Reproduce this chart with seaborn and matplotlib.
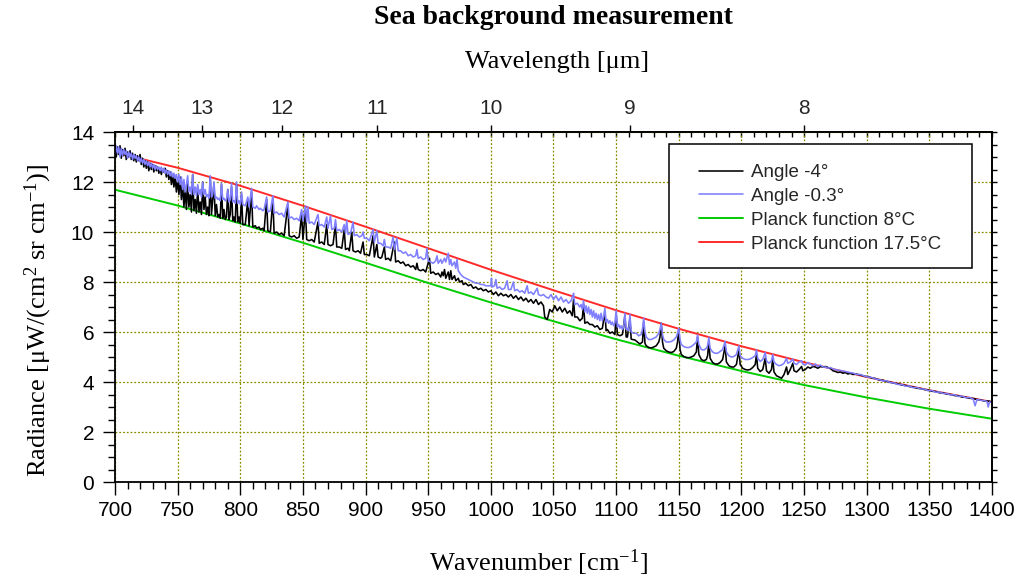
import numpy as np
import matplotlib
matplotlib.use("Agg")
import matplotlib.pyplot as plt
import seaborn as sns
from matplotlib.ticker import MultipleLocator, NullFormatter
from matplotlib.patches import Rectangle

# ---------------- data ----------------
planck_nu = [700, 750, 800, 850, 900, 950, 1000, 1050, 1100, 1150, 1200, 1250, 1300, 1350, 1400]
planck_8C = [11.69, 11.06, 10.34, 9.57, 8.77, 7.96, 7.18, 6.43, 5.71, 5.05, 4.44, 3.88, 3.38, 2.93, 2.53]
planck_17C = [13.18, 12.57, 11.85, 11.05, 10.21, 9.35, 8.49, 7.67, 6.87, 6.13, 5.43, 4.79, 4.20, 3.67, 3.20]

angle_m4_pts = [
    (700, 13.5), (701, 13.0), (702, 13.4), (703, 13.1), (704, 13.45), (705, 12.95), (706, 13.3),
    (707, 13.05), (708, 13.35), (709, 12.9), (710, 13.2), (711, 13.0), (712, 13.25), (713, 12.9),
    (714, 13.15), (715, 12.85), (716, 13.1), (717, 12.8), (718, 13.05), (719, 12.85), (720, 13.1),
    (721, 12.7), (722, 12.95), (723, 12.6), (724, 12.85), (725, 12.55), (726, 12.8), (727, 12.45),
    (728, 12.75), (729, 12.5), (730, 12.7), (731, 12.4), (732, 12.65), (733, 12.45), (734, 12.6),
    (735, 12.35), (736, 12.55), (737, 12.3), (738, 12.5), (739, 12.4), (740, 12.55), (741, 12.2),
    (742, 12.45), (743, 12.1), (744, 12.4), (745, 11.9), (746, 12.3), (747, 11.8), (748, 12.2),
    (749, 11.6), (750, 12.1), (751, 11.5), (752, 12.2), (753, 11.3), (754, 11.9), (755, 11.0),
    (756, 11.7), (757, 10.9), (758, 12.0), (759, 11.0), (760, 11.5), (761, 10.8), (762, 12.3),
    (763, 10.85), (764, 11.3), (765, 10.75), (766, 11.8), (767, 10.8), (768, 11.2), (769, 10.7),
    (770, 12.0), (771, 10.9), (772, 11.4), (773, 10.7), (774, 11.0), (775, 10.65), (776, 12.2),
    (777, 10.7), (778, 11.3), (779, 11.9), (780, 10.65), (781, 11.1), (782, 10.6), (783, 10.7),
    (784, 10.55), (785, 11.9), (786, 10.55), (787, 10.9), (788, 10.5), (789, 10.6), (790, 11.7),
    (791, 10.5), (792, 10.7), (793, 11.8), (794, 10.45), (795, 10.6), (796, 10.4), (797, 11.9),
    (798, 10.4), (799, 10.6), (800, 10.35), (801, 11.5), (802, 10.3), (804, 10.3), (806, 11.3),
    (807, 10.25), (809, 11.6), (810, 10.2), (812, 10.25), (813, 10.15), (815, 10.2), (816, 10.1),
    (818, 10.15), (819, 10.05), (821, 11.3), (822, 10.05), (824, 10.0), (826, 11.3), (827, 9.95),
    (829, 10.0), (831, 9.9), (833, 9.95), (835, 9.85), (838, 11.1), (839, 9.85), (841, 9.8),
    (843, 9.85), (845, 9.75), (847, 9.8), (849, 10.7), (850, 9.7), (852, 10.9), (853, 9.7),
    (855, 9.65), (857, 9.7), (859, 9.6), (862, 10.4), (863, 9.55), (865, 9.6), (867, 9.5),
    (869, 10.3), (870, 9.5), (872, 9.45), (874, 9.5), (876, 10.3), (877, 9.4), (879, 9.4),
    (881, 9.35), (883, 10.1), (884, 9.3), (886, 9.35), (887, 9.25), (889, 10.0), (890, 9.25),
    (892, 9.2), (894, 9.25), (896, 9.15), (898, 9.6), (899, 9.1), (901, 9.1), (903, 9.05),
    (906, 9.85), (907, 9.0), (909, 9.5), (910, 9.0), (912, 8.95), (913, 9.0), (915, 9.4),
    (916, 8.9), (918, 8.95), (920, 8.85), (923, 9.6), (924, 8.8), (926, 8.85), (928, 8.75),
    (930, 8.8), (932, 8.65), (934, 8.7), (936, 8.6), (938, 8.65), (940, 8.5), (941, 8.75),
    (942, 8.5), (944, 8.45), (946, 8.5), (948, 8.4), (951, 8.95), (952, 8.35), (954, 8.4),
    (956, 8.3), (958, 8.35), (960, 8.2), (961, 8.4), (962, 8.25), (963, 8.5), (964, 8.15),
    (966, 8.4), (967, 8.1), (968, 8.45), (969, 8.1), (971, 8.25), (972, 8.05), (974, 8.15),
    (975, 8.0), (977, 8.05), (978, 7.9), (980, 7.95), (982, 7.85), (984, 7.9), (986, 7.75),
    (988, 7.8), (990, 7.7), (992, 7.75), (994, 7.65), (996, 7.7), (998, 7.6), (1000, 7.65),
    (1002, 7.5), (1004, 7.6), (1006, 7.45), (1008, 7.55), (1010, 7.45), (1012, 7.5), (1014, 7.4),
    (1016, 7.5), (1018, 7.35), (1020, 7.45), (1022, 7.3), (1024, 7.4), (1026, 7.25), (1028, 7.35),
    (1030, 7.2), (1032, 7.3), (1034, 7.15), (1036, 7.3), (1038, 7.1), (1040, 7.2), (1042, 7.05),
    (1043, 6.6), (1045, 6.5), (1047, 6.9), (1049, 6.8), (1051, 7.05), (1053, 6.85), (1055, 7.0),
    (1057, 6.8), (1059, 6.95), (1061, 6.75), (1063, 6.85), (1065, 6.65), (1066, 7.3), (1067, 6.6),
    (1069, 6.6), (1071, 6.45), (1073, 6.55), (1074, 7.1), (1075, 6.35), (1077, 6.4), (1079, 6.3),
    (1081, 6.3), (1083, 6.2), (1085, 6.25), (1087, 6.1), (1089, 6.15), (1091, 6.8), (1092, 6.05),
    (1093, 6.1), (1095, 5.95), (1097, 6.0), (1099, 5.9), (1100, 6.75), (1101, 5.9), (1103, 5.85),
    (1105, 5.9), (1107, 6.65), (1108, 5.8), (1109, 5.8), (1111, 6.55), (1112, 5.72), (1113, 5.7),
    (1115, 5.68), (1117, 5.6), (1119, 5.52), (1121, 5.6), (1122, 6.4), (1123, 5.55), (1124, 5.45),
    (1126, 5.38), (1128, 5.36), (1130, 5.4), (1132, 5.45), (1134, 5.6), (1135, 5.8), (1136, 6.35),
    (1137, 5.6), (1138, 5.35), (1140, 5.25), (1142, 5.2), (1144, 5.18), (1146, 5.22), (1148, 5.35),
    (1149, 5.6), (1150, 6.1), (1151, 5.3), (1152, 5.1), (1154, 5.02), (1156, 4.98), (1158, 4.97),
    (1160, 5.0), (1162, 5.05), (1164, 5.2), (1165, 5.8), (1166, 5.1), (1168, 4.9), (1170, 4.85),
    (1172, 4.9), (1173, 5.05), (1174, 5.6), (1175, 4.95), (1177, 4.78), (1179, 4.72), (1181, 4.72),
    (1183, 4.78), (1185, 4.9), (1187, 5.45), (1188, 4.8), (1190, 4.65), (1192, 4.6), (1194, 4.6),
    (1196, 4.7), (1198, 5.3), (1199, 4.7), (1201, 4.55), (1203, 4.5), (1205, 4.48), (1207, 4.5),
    (1209, 4.58), (1211, 4.7), (1212, 5.1), (1213, 4.55), (1215, 4.42), (1217, 4.5), (1219, 4.95),
    (1220, 4.45), (1222, 4.35), (1224, 4.5), (1225, 4.95), (1226, 4.4), (1228, 4.25), (1230, 4.2),
    (1232, 4.15), (1234, 4.3), (1236, 4.6), (1237, 4.3), (1239, 4.5), (1241, 4.75), (1242, 4.45),
    (1244, 4.4), (1246, 4.5), (1248, 4.62), (1249, 4.45), (1251, 4.5), (1253, 4.6), (1255, 4.55),
    (1257, 4.62), (1259, 4.6), (1261, 4.55), (1263, 4.62), (1265, 4.6), (1267, 4.62), (1269, 4.58),
    (1271, 4.55), (1273, 4.45), (1275, 4.42), (1277, 4.38), (1279, 4.4), (1281, 4.35), (1283, 4.38),
    (1285, 4.32), (1287, 4.35), (1289, 4.3), (1291, 4.32), (1293, 4.3), (1295, 4.28), (1297, 4.25),
    (1299, 4.22), (1301, 4.22), (1304, 4.16), (1307, 4.14), (1310, 4.08), (1313, 4.07), (1316, 4.02),
    (1319, 3.99), (1322, 3.95), (1325, 3.93), (1328, 3.88), (1331, 3.86), (1334, 3.82), (1337, 3.8),
    (1340, 3.75), (1343, 3.74), (1346, 3.7), (1349, 3.68), (1352, 3.63), (1355, 3.62), (1358, 3.57),
    (1361, 3.56), (1364, 3.52), (1367, 3.5), (1370, 3.46), (1373, 3.45), (1376, 3.4), (1379, 3.39),
    (1382, 3.35), (1385, 3.34), (1388, 3.3), (1391, 3.28), (1394, 3.24), (1397, 3.24), (1400, 3.2),
]

angle_m03_pts = [
    (700, 13.1), (701, 13.45), (702, 13.15), (703, 13.4), (704, 13.0), (705, 13.35), (706, 13.05),
    (707, 13.3), (708, 13.1), (709, 13.25), (710, 12.95), (711, 13.2), (712, 13.0), (713, 13.15),
    (714, 12.9), (715, 13.1), (716, 12.95), (717, 13.05), (718, 12.85), (719, 13.0), (720, 12.8),
    (721, 12.95), (722, 12.75), (723, 12.9), (724, 12.7), (725, 12.85), (726, 12.65), (727, 12.8),
    (728, 12.6), (729, 12.75), (730, 12.55), (731, 12.7), (732, 12.5), (733, 12.65), (734, 12.5),
    (735, 12.6), (736, 12.45), (737, 12.6), (738, 12.4), (739, 12.55), (740, 12.35), (741, 12.5),
    (742, 12.3), (743, 12.45), (744, 12.25), (745, 12.4), (746, 12.2), (747, 12.35), (748, 12.15),
    (749, 12.3), (750, 12.0), (751, 12.3), (752, 11.9), (753, 12.2), (754, 11.7), (755, 12.1),
    (756, 11.6), (757, 11.9), (758, 12.25), (759, 11.6), (760, 11.8), (761, 11.5), (762, 12.3),
    (763, 11.5), (764, 11.8), (765, 11.45), (766, 11.9), (767, 11.5), (768, 11.7), (769, 11.4),
    (770, 12.0), (771, 11.5), (772, 11.7), (773, 11.4), (774, 11.5), (775, 11.35), (776, 12.25),
    (777, 11.4), (778, 11.5), (779, 12.0), (780, 11.35), (781, 11.4), (782, 11.3), (783, 11.35),
    (784, 11.25), (785, 11.95), (786, 11.3), (787, 11.35), (788, 11.25), (789, 11.3), (790, 11.7),
    (791, 11.2), (792, 11.3), (793, 11.95), (794, 11.2), (795, 11.25), (796, 11.15), (797, 12.0),
    (798, 11.15), (799, 11.25), (800, 11.1), (801, 11.6), (802, 11.1), (804, 11.05), (806, 11.4),
    (807, 11.0), (809, 11.75), (810, 11.0), (812, 10.95), (813, 11.05), (815, 10.9), (816, 10.95),
    (818, 10.85), (819, 10.9), (821, 11.4), (822, 10.8), (824, 10.85), (826, 11.45), (827, 10.75),
    (829, 10.8), (831, 10.7), (833, 10.75), (835, 10.6), (838, 11.2), (839, 10.55), (841, 10.6),
    (843, 10.5), (845, 10.55), (847, 10.45), (849, 10.9), (850, 10.45), (852, 11.05), (853, 10.4),
    (854, 11.0), (855, 10.35), (857, 10.4), (859, 10.3), (862, 10.7), (863, 10.25), (865, 10.3),
    (867, 10.2), (869, 10.6), (870, 10.15), (872, 10.65), (873, 10.1), (875, 10.15), (876, 10.5),
    (877, 10.05), (879, 10.1), (881, 10.0), (883, 10.3), (884, 9.95), (885, 10.45), (886, 9.9),
    (888, 9.95), (890, 10.4), (891, 9.85), (893, 9.9), (895, 9.8), (897, 9.85), (898, 10.0),
    (899, 9.75), (901, 9.75), (903, 9.65), (906, 10.1), (907, 9.6), (909, 10.05), (910, 9.55),
    (912, 9.55), (914, 9.45), (915, 9.7), (916, 9.4), (918, 9.4), (920, 9.35), (922, 9.8),
    (923, 9.3), (925, 9.75), (926, 9.25), (928, 9.25), (930, 9.15), (932, 9.2), (934, 9.05),
    (936, 9.1), (938, 9.0), (940, 9.05), (941, 9.3), (942, 8.95), (944, 9.0), (946, 8.9),
    (948, 8.95), (949, 9.35), (950, 8.85), (952, 8.8), (954, 8.75), (956, 8.85), (957, 9.05),
    (958, 8.75), (960, 8.9), (961, 8.75), (963, 8.95), (964, 8.8), (966, 9.15), (967, 8.7),
    (968, 8.9), (969, 8.65), (971, 8.8), (972, 8.55), (973, 8.9), (974, 8.45), (976, 8.3),
    (978, 8.2), (980, 8.15), (982, 8.1), (984, 8.05), (986, 8.0), (988, 7.95), (990, 7.95),
    (992, 7.9), (994, 7.9), (996, 7.85), (998, 7.85), (1000, 7.85), (1000.5, 8.15), (1001, 7.8),
    (1003, 7.85), (1004, 8.1), (1005, 7.75), (1007, 7.8), (1009, 7.7), (1011, 7.75), (1013, 8.05),
    (1014, 7.7), (1016, 7.7), (1018, 8.0), (1019, 7.65), (1021, 7.7), (1023, 7.6), (1025, 7.65),
    (1027, 7.55), (1029, 7.85), (1030, 7.55), (1032, 7.6), (1034, 7.5), (1037, 7.75), (1038, 7.5),
    (1040, 7.45), (1042, 7.5), (1044, 7.4), (1046, 7.35), (1048, 7.5), (1050, 7.3), (1052, 7.45),
    (1054, 7.25), (1056, 7.4), (1058, 7.2), (1060, 7.3), (1062, 7.15), (1064, 7.25), (1066, 7.55),
    (1067, 7.1), (1069, 7.15), (1071, 7.0), (1072, 7.1), (1073, 6.9), (1074, 7.25), (1075, 6.8),
    (1076, 7.05), (1077, 6.75), (1078, 7.0), (1079, 6.7), (1080, 6.9), (1081, 6.6), (1082, 6.85),
    (1083, 6.55), (1084, 6.75), (1085, 6.5), (1086, 6.7), (1087, 6.45), (1088, 6.75), (1089, 6.45),
    (1090, 6.6), (1091, 6.95), (1092, 6.4), (1093, 6.5), (1094, 6.35), (1095, 6.45), (1096, 6.3),
    (1097, 6.4), (1098, 6.25), (1099, 6.35), (1100, 6.85), (1101, 6.2), (1102, 6.3), (1103, 6.15),
    (1104, 6.25), (1105, 6.1), (1106, 6.2), (1107, 6.75), (1108, 6.1), (1109, 6.15), (1110, 6.05),
    (1111, 6.7), (1112, 6.0), (1114, 5.95), (1116, 5.95), (1118, 5.85), (1120, 5.9), (1121, 6.1),
    (1122, 6.55), (1123, 6.0), (1124, 5.8), (1126, 5.7), (1128, 5.7), (1130, 5.75), (1132, 5.8),
    (1134, 5.95), (1135, 6.1), (1136, 6.35), (1137, 5.9), (1138, 5.7), (1140, 5.6), (1142, 5.6),
    (1144, 5.62), (1146, 5.68), (1148, 5.8), (1149, 5.95), (1150, 6.15), (1151, 5.7), (1152, 5.5),
    (1154, 5.42), (1156, 5.38), (1158, 5.38), (1160, 5.42), (1162, 5.5), (1164, 5.6), (1165, 5.88),
    (1166, 5.5), (1168, 5.3), (1170, 5.28), (1172, 5.35), (1173, 5.45), (1174, 5.78), (1175, 5.35),
    (1177, 5.2), (1179, 5.15), (1181, 5.15), (1183, 5.22), (1185, 5.3), (1187, 5.62), (1188, 5.2),
    (1190, 5.05), (1192, 5.0), (1194, 5.02), (1196, 5.1), (1198, 5.44), (1199, 5.05), (1201, 4.95),
    (1203, 4.9), (1205, 4.9), (1207, 4.92), (1209, 4.98), (1211, 5.05), (1212, 5.28), (1213, 4.95),
    (1215, 4.82), (1217, 4.9), (1219, 5.18), (1220, 4.85), (1222, 4.75), (1224, 4.85), (1225, 5.1),
    (1226, 4.8), (1228, 4.7), (1230, 4.65), (1232, 4.68), (1234, 4.75), (1236, 4.95), (1237, 4.75),
    (1239, 4.8), (1241, 4.92), (1242, 4.75), (1244, 4.7), (1246, 4.8), (1248, 4.85), (1249, 4.72),
    (1251, 4.68), (1253, 4.78), (1255, 4.72), (1257, 4.65), (1259, 4.72), (1261, 4.62), (1263, 4.68),
    (1265, 4.6), (1267, 4.6), (1269, 4.55), (1271, 4.58), (1274, 4.5), (1277, 4.48), (1280, 4.45),
    (1283, 4.42), (1286, 4.38), (1289, 4.36), (1292, 4.3), (1295, 4.3), (1298, 4.24), (1301, 4.2),
    (1304, 4.18), (1307, 4.12), (1310, 4.1), (1313, 4.04), (1316, 4.05), (1319, 3.97), (1322, 3.96),
    (1325, 3.9), (1328, 3.9), (1331, 3.83), (1334, 3.84), (1337, 3.77), (1340, 3.78), (1343, 3.72),
    (1346, 3.72), (1349, 3.65), (1352, 3.66), (1355, 3.59), (1358, 3.6), (1361, 3.54), (1364, 3.54),
    (1367, 3.48), (1370, 3.49), (1373, 3.42), (1376, 3.44), (1379, 3.37), (1382, 3.38), (1385, 3.32),
    (1386.5, 3.05), (1388, 3.3), (1391, 3.27), (1394, 3.25), (1396, 3.22), (1397, 3.0), (1398, 3.2),
    (1400, 3.18),
]

wavelength_ticks = [8, 9, 10, 11, 12, 13, 14]
series_labels = ["Angle -4°", "Angle -0.3°", "Planck function 8°C", "Planck function 17.5°C"]

nu_m4, rad_m4 = [list(v) for v in zip(*angle_m4_pts)]
nu_m03, rad_m03 = [list(v) for v in zip(*angle_m03_pts)]

# ---------------- style ----------------
sns.set_theme(style="ticks")
plt.rcParams["font.family"] = ["Liberation Sans", "DejaVu Sans"]
plt.rcParams["mathtext.fontset"] = "custom"
plt.rcParams["mathtext.rm"] = "Liberation Serif"
plt.rcParams["mathtext.it"] = "Liberation Serif:italic"
plt.rcParams["mathtext.bf"] = "Liberation Serif:bold"
SERIF = ["Liberation Serif", "DejaVu Serif"]

W, H = 1019, 585
fig = plt.figure(figsize=(W / 100, H / 100), dpi=100)
ax = fig.add_axes([115 / W, 1 - 482 / H, 877 / W, 350 / H])

sns.lineplot(x=planck_nu, y=planck_8C, ax=ax, color="#00cc00", linewidth=1.4, zorder=3)
h_g = ax.lines[-1]
sns.lineplot(x=planck_nu, y=planck_17C, ax=ax, color="#ff2a2a", linewidth=1.4, zorder=3)
h_r = ax.lines[-1]
sns.lineplot(x=nu_m4, y=rad_m4, ax=ax, color="black", linewidth=1.15, zorder=4,
             estimator=None, sort=False)
h_k = ax.lines[-1]
sns.lineplot(x=nu_m03, y=rad_m03, ax=ax, color="#7f7fff", linewidth=1.15, zorder=5,
             estimator=None, sort=False)
h_b = ax.lines[-1]

ax.set_xlim(700, 1400)
ax.set_ylim(0, 14)
ax.xaxis.set_major_locator(MultipleLocator(50))
ax.xaxis.set_minor_locator(MultipleLocator(10))
ax.yaxis.set_major_locator(MultipleLocator(2))
ax.yaxis.set_minor_locator(MultipleLocator(0.5))
ax.tick_params(which="major", direction="out", length=9, width=1.0, labelsize=15,
               color="black", labelcolor="black", top=False, right=False)
ax.tick_params(which="minor", direction="out", length=5, width=1.0, color="black",
               top=False, right=False)
ax.tick_params(axis="x", which="major", pad=5)
ax.tick_params(axis="y", which="major", pad=6)
ax.grid(True, which="major", color="#8c8c00", linestyle=(0, (1.5, 1.5)), linewidth=0.9)
ax.set_axisbelow(True)
for s in ax.spines.values():
    s.set_color("black")
    s.set_linewidth(1.3)
    s.set_zorder(6)

# right spine ticks (outward, every 0.5)
sr = ax.secondary_yaxis("right")
sr.yaxis.set_major_locator(MultipleLocator(0.5))
sr.yaxis.set_major_formatter(NullFormatter())
sr.tick_params(direction="out", length=3.6, width=1.0, color="black")
sr.spines["right"].set_linewidth(1.3)

# top spine minor ticks (inward, every 10)
st = ax.secondary_xaxis("top")
st.xaxis.set_major_locator(MultipleLocator(10))
st.xaxis.set_major_formatter(NullFormatter())
st.tick_params(direction="in", length=3.6, width=1.0, color="black")
st.spines["top"].set_linewidth(1.3)


def nu2lam(x):
    x = np.asarray(x, dtype=float)
    with np.errstate(divide="ignore", invalid="ignore"):
        return np.where(x == 0, np.inf, 1e4 / np.where(x == 0, 1, x))


sw = ax.secondary_xaxis("top", functions=(nu2lam, nu2lam))
sw.set_xticks(wavelength_ticks)
sw.set_xticklabels([str(t) for t in wavelength_ticks])
sw.tick_params(direction="out", length=5, width=1.0, labelsize=15, pad=5, color="black")
sw.spines["top"].set_linewidth(1.3)

# labels
ax.set_xlabel("Wavenumber [cm$^{-1}$]", fontsize=19, family=SERIF, color="black")
ax.xaxis.set_label_coords((538.5 - 115) / 877, (482 - 563) / 350)
ax.xaxis.label.set_va("center")
ax.set_ylabel("Radiance [μW/(cm$^{2}$ sr cm$^{-1}$)]", fontsize=19, family=SERIF, color="black")
ax.yaxis.set_label_coords((38 - 115) / 877, (482 - 320) / 350)
ax.yaxis.label.set_va("center")

fig.text(557 / W, 1 - 62 / H, "Wavelength [μm]", ha="center", va="center",
         fontsize=19, family=SERIF, color="black")
fig.text(553 / W, 1 - 18 / H, "Sea background measurement", ha="center", va="center",
         fontsize=20, fontweight="bold", family=SERIF, color="black")

# legend: square black frame, entries placed inside it
box = Rectangle(((669 - 115) / 877, (482 - 268) / 350), (972 - 669) / 877, (268 - 144) / 350,
                transform=ax.transAxes, facecolor="white", edgecolor="black",
                linewidth=1.1, zorder=9)
ax.add_patch(box)
leg = ax.legend([h_k, h_b, h_g, h_r], series_labels, loc="upper left",
                bbox_to_anchor=((699 - 115) / 877, (482 - 164) / 350), borderaxespad=0,
                borderpad=0, frameon=False, fontsize=13.5, handlelength=2.35,
                handletextpad=0.43, labelspacing=0.36)
leg.set_zorder(10)

fig.savefig("out.png", dpi=100, facecolor="white")
